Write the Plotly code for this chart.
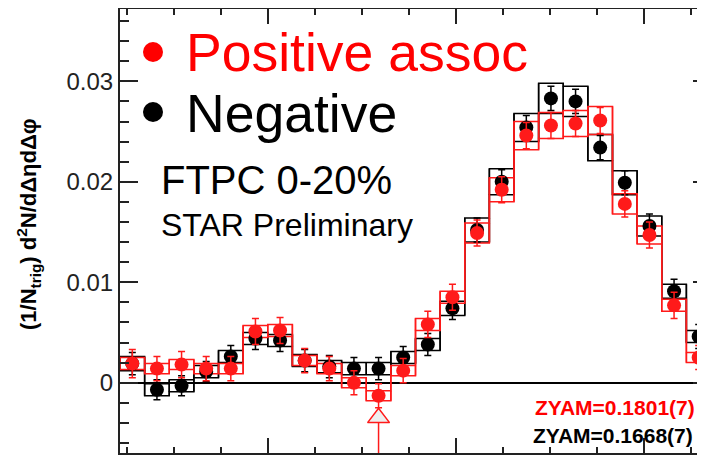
import numpy as np
import plotly.graph_objects as go

# ---------------- data ----------------
n_bins = 24
dphi_lo, dphi_hi = -np.pi / 2, 3 * np.pi / 2

pos_vals = [0.0019, 0.0014, 0.0018, 0.0014, 0.0014, 0.0051, 0.0052, 0.0022,
            0.0014, 0.0000, -0.0013, 0.0012, 0.0058, 0.0085, 0.0149, 0.0192,
            0.0246, 0.0256, 0.0258, 0.0261, 0.0178, 0.0147, 0.0077, 0.0025]
pos_stat = [0.0014, 0.0012, 0.0013, 0.0012, 0.0012, 0.0013, 0.0013, 0.0012,
            0.0012, 0.0012, 0.0012, 0.0012, 0.0013, 0.0013, 0.0013, 0.0013,
            0.0013, 0.0013, 0.0013, 0.0013, 0.0013, 0.0013, 0.0013, 0.0012]
pos_sys = [0.0006, 0.0005, 0.0005, 0.0005, 0.0005, 0.0006, 0.0006, 0.0005,
           0.0005, 0.0005, 0.0005, 0.0005, 0.0006, 0.0006, 0.0010, 0.0012,
           0.0014, 0.0013, 0.0013, 0.0014, 0.0010, 0.0009, 0.0006, 0.0005]

neg_vals = [0.0019, -0.0007, -0.0003, 0.0011, 0.0026, 0.0044, 0.0042, 0.0022,
            0.0016, 0.0014, 0.0014, 0.0025, 0.0038, 0.0074, 0.0152, 0.0200,
            0.0254, 0.0283, 0.0280, 0.0234, 0.0199, 0.0156, 0.0091, 0.0046]
neg_stat = [0.0011, 0.0010, 0.0010, 0.0010, 0.0011, 0.0011, 0.0011, 0.0011,
            0.0011, 0.0011, 0.0011, 0.0011, 0.0011, 0.0011, 0.0012, 0.0012,
            0.0012, 0.0012, 0.0012, 0.0012, 0.0012, 0.0012, 0.0012, 0.0012]
neg_sys = [0.0007, 0.0006, 0.0006, 0.0006, 0.0006, 0.0006, 0.0006, 0.0006,
           0.0006, 0.0006, 0.0006, 0.0006, 0.0006, 0.0007, 0.0012, 0.0013,
           0.0014, 0.0015, 0.0015, 0.0013, 0.0012, 0.0010, 0.0007, 0.0006]

zyam_bin = 10            # bin marked with the open triangle
zyam_marker_y = -0.0035

y_min, y_max = -0.0070, 0.0372
y_tickvals = [0, 0.01, 0.02, 0.03]
y_ticktext = ["0", "0.01", "0.02", "0.03"]

label_pos = "Positive assoc"
label_neg = "Negative"
label_cent = "FTPC 0-20%"
label_prelim = "STAR Preliminary"
zyam_pos_txt = "ZYAM=0.1801(7)"
zyam_neg_txt = "ZYAM=0.1668(7)"

# ---------------- derived ----------------
edges = np.linspace(dphi_lo, dphi_hi, n_bins + 1)
centers = 0.5 * (edges[:-1] + edges[1:])

RED = "#ff1a1a"
BLK = "#000000"
FONT = "Liberation Sans"

# page geometry (the browser body has an 8px margin, so the figure is
# sized to the remaining area)
PAGE_W, PAGE_H = 705, 456
BODY = 8
W, H = PAGE_W - BODY, PAGE_H - BODY
L = 120 - BODY          # plot frame left at page x=120
T = 9 - BODY            # plot frame top at page y=9
B = PAGE_H - 453        # plot frame bottom at page y=453
frame_right_page = 711
px_per_unit = (frame_right_page - 120) / (dphi_hi - dphi_lo)
x_vis_hi = dphi_lo + (PAGE_W - 120) / px_per_unit


def step_xy(vals, half):
    up = list(np.array(vals) + np.array(half))
    lo = list(np.array(vals) - np.array(half))
    xs = list(edges)
    return xs, up + [up[-1]], lo + [lo[-1]]


fig = go.Figure()

# systematic boxes as step outlines
for vals, sysv, col in [(neg_vals, neg_sys, BLK), (pos_vals, pos_sys, RED)]:
    xs, up, lo = step_xy(vals, sysv)
    for yy in (up, lo):
        fig.add_trace(go.Scatter(x=xs, y=yy, mode="lines", line_shape="hv",
                                 line=dict(color=col, width=1.5),
                                 hoverinfo="skip", showlegend=False))
    vx, vy = [], []
    for i in range(n_bins):
        for e in (edges[i], edges[i + 1]):
            vx += [e, e, None]
            vy += [vals[i] - sysv[i], vals[i] + sysv[i], None]
    fig.add_trace(go.Scatter(x=vx, y=vy, mode="lines",
                             line=dict(color=col, width=1.5),
                             hoverinfo="skip", showlegend=False))

# ZYAM marker: line down to axis bottom plus open triangle
fig.add_trace(go.Scatter(
    x=[centers[zyam_bin], centers[zyam_bin]],
    y=[pos_vals[zyam_bin] - pos_stat[zyam_bin], y_min],
    mode="lines", line=dict(color=RED, width=1.5),
    hoverinfo="skip", showlegend=False))
fig.add_trace(go.Scatter(
    x=[centers[zyam_bin]], y=[zyam_marker_y], mode="markers",
    marker=dict(symbol="triangle-up", size=19, color="#eeeeee",
                line=dict(color=RED, width=1.5)),
    hoverinfo="skip", showlegend=False))

# data points
fig.add_trace(go.Scatter(
    x=centers, y=neg_vals, mode="markers", name=label_neg,
    marker=dict(color=BLK, size=14),
    error_y=dict(type="data", array=neg_stat, color=BLK, thickness=1.5, width=3.5),
    showlegend=False))
fig.add_trace(go.Scatter(
    x=centers, y=pos_vals, mode="markers", name=label_pos,
    marker=dict(color=RED, size=14),
    error_y=dict(type="data", array=pos_stat, color=RED, thickness=1.5, width=3.5),
    showlegend=False))


def px_x(p):
    # page pixel -> paper x
    return (p - BODY - L) / (W - L)


def px_y(p):
    # page pixel -> paper y
    return (H - B - (p - BODY)) / (H - B - T)


annotations = [
    dict(text=label_pos, x=px_x(184), y=px_y(52), xanchor="left", yanchor="middle",
         font=dict(family=FONT, size=53.5, color="#ff0000")),
    dict(text=label_neg, x=px_x(184), y=px_y(113), xanchor="left", yanchor="middle",
         font=dict(family=FONT, size=53.5, color=BLK)),
    dict(text=label_cent, x=px_x(159), y=px_y(180), xanchor="left", yanchor="middle",
         font=dict(family=FONT, size=40, color=BLK)),
    dict(text=label_prelim, x=px_x(159), y=px_y(225), xanchor="left", yanchor="middle",
         font=dict(family=FONT, size=32, color=BLK)),
    dict(text="<b>" + zyam_pos_txt + "</b>", x=px_x(697), y=px_y(407),
         xanchor="right", yanchor="middle",
         font=dict(family=FONT, size=21, color="#ff0000")),
    dict(text="<b>" + zyam_neg_txt + "</b>", x=px_x(695), y=px_y(435),
         xanchor="right", yanchor="middle",
         font=dict(family=FONT, size=21, color=BLK)),
    dict(text="<b>(1/N<sub>trig</sub>) d<sup>2</sup>N/dΔηdΔφ</b>",
         x=px_x(28), y=px_y(224), xanchor="center", yanchor="middle",
         textangle=-90, font=dict(family=FONT, size=22, color=BLK)),
]
for a in annotations:
    a.update(xref="paper", yref="paper", showarrow=False)

shapes = [
    dict(type="circle", xref="paper", yref="paper", xsizemode="pixel",
         ysizemode="pixel", xanchor=px_x(153), yanchor=px_y(52),
         x0=-10, x1=10, y0=-10, y1=10, fillcolor="#ff0000",
         line=dict(width=0)),
    dict(type="circle", xref="paper", yref="paper", xsizemode="pixel",
         ysizemode="pixel", xanchor=px_x(153), yanchor=px_y(112),
         x0=-10, x1=10, y0=-10, y1=10, fillcolor=BLK,
         line=dict(width=0)),
]

fig.update_layout(
    template="none",
    width=W, height=H,
    margin=dict(l=L, r=0, t=T, b=B, pad=0, autoexpand=False),
    paper_bgcolor="white", plot_bgcolor="white",
    showlegend=False,
    annotations=annotations,
    shapes=shapes,
    xaxis=dict(range=[dphi_lo, x_vis_hi], showgrid=False, zeroline=False,
               automargin=False,
               showline=True, linecolor="#222", linewidth=2, mirror="ticks",
               ticks="inside", tick0=0, dtick=2, ticklen=15, tickwidth=1.5,
               tickcolor="#222", showticklabels=False,
               minor=dict(ticks="inside", dtick=0.5, tick0=0, ticklen=6,
                          tickwidth=1.5, tickcolor="#222", showgrid=False)),
    yaxis=dict(range=[y_min, y_max], showgrid=False, automargin=False,
               zeroline=True, zerolinecolor=BLK, zerolinewidth=1.5,
               showline=True, linecolor="#222", linewidth=2, mirror=False,
               ticks="inside", tickvals=y_tickvals, ticktext=y_ticktext,
               ticklen=18, tickwidth=1.5, tickcolor="#222",
               tickfont=dict(family=FONT, size=24, color="#222"),
               minor=dict(ticks="inside", dtick=0.002, tick0=0, ticklen=9,
                          tickwidth=1.5, tickcolor="#222", showgrid=False)),
    yaxis2=dict(range=[y_min, y_max], overlaying="y", side="right", anchor="x",
                automargin=False,
                showgrid=False, zeroline=False, showline=False,
                ticks="inside", tickvals=y_tickvals, ticklen=12, tickwidth=1.5,
                tickcolor="#222", showticklabels=False,
                minor=dict(ticks="inside", dtick=0.002, tick0=0, ticklen=3,
                           tickwidth=1.5, tickcolor="#222", showgrid=False)),
)

# invisible trace so the right-hand tick axis is drawn
fig.add_trace(go.Scatter(x=[centers[0]], y=[pos_vals[0]], yaxis="y2",
                         mode="markers", marker=dict(opacity=0),
                         hoverinfo="skip", showlegend=False))

fig.write_html("out.html")
